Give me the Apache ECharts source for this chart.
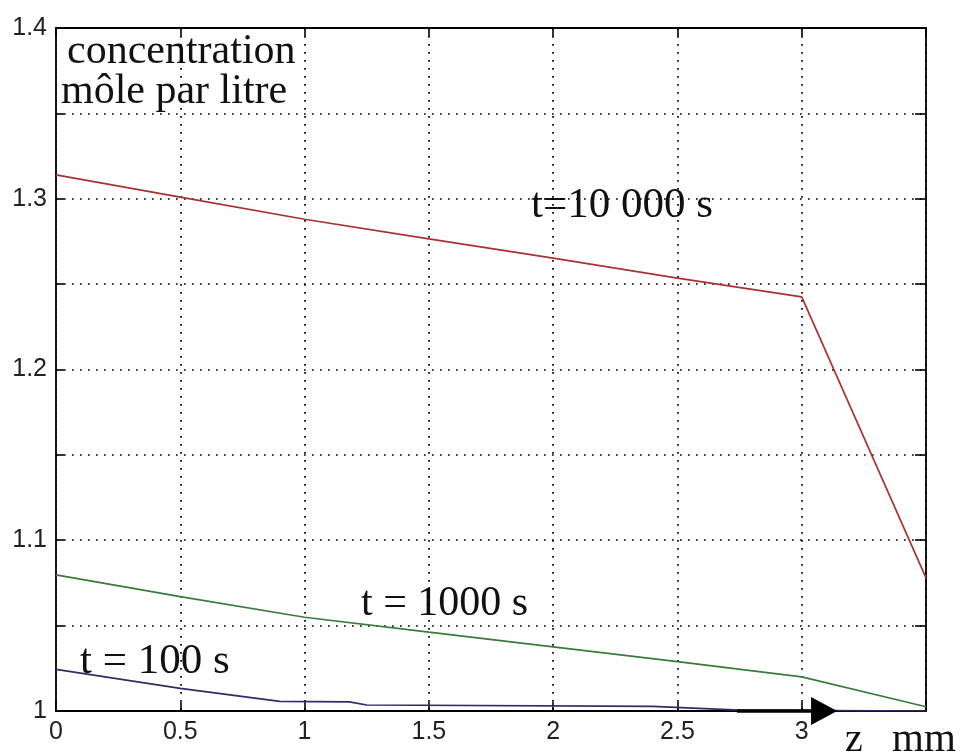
<!DOCTYPE html>
<html>
<head>
<meta charset="utf-8">
<script src="https://cdn.jsdelivr.net/npm/echarts@6/dist/echarts.min.js"></script>
<style>
html,body{margin:0;padding:0;background:#fff;}
#chart{width:962px;height:756px;}
</style>
</head>
<body>
<div id="chart"></div>
<script>
// ---- data ----
var zRed = [0, 0.5, 1, 1.5, 2, 2.5, 3, 3.5];
var cRed = [1.314, 1.301, 1.288, 1.2765, 1.2652, 1.2535, 1.2425, 1.078];   // t = 10 000 s
var zGreen = [0, 0.5, 1, 1.5, 2, 2.5, 3, 3.5];
var cGreen = [1.0797, 1.067, 1.0549, 1.0462, 1.0376, 1.0289, 1.020, 1.0025]; // t = 1000 s
var zBlue = [0, 0.5, 0.9, 1.18, 1.25, 2.4, 2.75, 3.5];
var cBlue = [1.0244, 1.0133, 1.0056, 1.0053, 1.0035, 1.0027, 1.0005, 1.0];  // t = 100 s
var arrowZ = [2.74, 3.09];
var arrowC = [1, 1];
var yTicks = [1, 1.1, 1.2, 1.3, 1.4];
var xTicks = [0, 0.5, 1, 1.5, 2, 2.5, 3];

function pairs(xs, ys) { return xs.map(function (x, i) { return [x, ys[i]]; }); }

var chart = echarts.init(document.getElementById('chart'), null, {renderer: 'canvas'});
var gridLine = {show: true, lineStyle: {color: '#000', width: 1.7, type: [1.7, 6.3]}};
var axisLine = {show: true, onZero: false, lineStyle: {color: '#000', width: 1.8}};
var serif = '"Liberation Serif", "DejaVu Serif", serif';
var sans = '"Liberation Sans", Arial, sans-serif';

var option = {
  animation: false,
  backgroundColor: '#fff',
  grid: {left: 56, right: 36, top: 28, bottom: 45, containLabel: false},
  xAxis: [
    {type: 'value', min: 0, max: 3.5, interval: 0.5, position: 'bottom',
     axisLine: axisLine, axisTick: {show: true, inside: true, length: 9, lineStyle: {color: '#000', width: 1.6}},
     axisLabel: {show: true, margin: 9, color: '#222', fontSize: 25, fontFamily: sans,
       formatter: function (v) {
         for (var i = 0; i < xTicks.length; i++) { if (Math.abs(xTicks[i] - v) < 1e-6) return String(xTicks[i]); }
         return '';
       }},
     splitLine: gridLine},
    {type: 'value', min: 0, max: 3.5, interval: 0.5, position: 'top',
     axisLine: axisLine, axisTick: {show: true, inside: true, length: 8, lineStyle: {color: '#000', width: 1.6}},
     axisLabel: {show: false}, splitLine: {show: false}}
  ],
  yAxis: [
    {type: 'value', min: 1, max: 1.4, interval: 0.05, position: 'left',
     axisLine: axisLine, axisTick: {show: true, inside: true, length: 8, lineStyle: {color: '#000', width: 1.6}},
     axisLabel: {show: true, margin: 9, color: '#222', fontSize: 25, fontFamily: sans,
       formatter: function (v) {
         for (var i = 0; i < yTicks.length; i++) { if (Math.abs(yTicks[i] - v) < 1e-6) return String(yTicks[i]); }
         return '';
       }},
     splitLine: gridLine},
    {type: 'value', min: 1, max: 1.4, interval: 0.05, position: 'right',
     axisLine: axisLine, axisTick: {show: true, inside: true, length: 11, lineStyle: {color: '#000', width: 1.6}},
     axisLabel: {show: false}, splitLine: {show: false}}
  ],
  series: [
    {name: 't=10 000 s', type: 'line', data: pairs(zRed, cRed), showSymbol: false, symbol: 'none',
     lineStyle: {color: '#a83232', width: 1.7}},
    {name: 't = 1000 s', type: 'line', data: pairs(zGreen, cGreen), showSymbol: false, symbol: 'none',
     lineStyle: {color: '#3b7a3b', width: 1.7}},
    {name: 't = 100 s', type: 'line', data: pairs(zBlue, cBlue), showSymbol: false, symbol: 'none',
     lineStyle: {color: '#2e2e66', width: 1.7},
     markLine: {silent: true, symbol: ['none', 'triangle'], symbolSize: [28, 26],
       label: {show: false},
       lineStyle: {color: '#000', width: 3.5, type: 'solid'},
       data: [[{coord: [arrowZ[0], arrowC[0]]}, {coord: [arrowZ[1], arrowC[1]]}]]}}
  ],
  graphic: [
    {type: 'text', left: 67, top: 31, style: {text: 'concentration', font: '42px ' + serif, fill: '#111'}},
    {type: 'text', left: 61, top: 71, style: {text: 'môle par litre', font: '42px ' + serif, fill: '#111'}},
    {type: 'text', left: 531, top: 184, style: {text: 't=10 000 s', font: '43px ' + serif, fill: '#111'}},
    {type: 'text', left: 361, top: 583, style: {text: 't = 1000 s', font: '42px ' + serif, fill: '#111'}},
    {type: 'text', left: 80, top: 640, style: {text: 't = 100 s', font: '43px ' + serif, fill: '#111'}},
    {type: 'text', left: 845, top: 720, style: {text: 'z', font: '40px ' + serif, fill: '#111'}},
    {type: 'text', left: 892, top: 720, style: {text: 'mm', font: '41px ' + serif, fill: '#111'}}
  ]
};
chart.setOption(option);
</script>
</body>
</html>
